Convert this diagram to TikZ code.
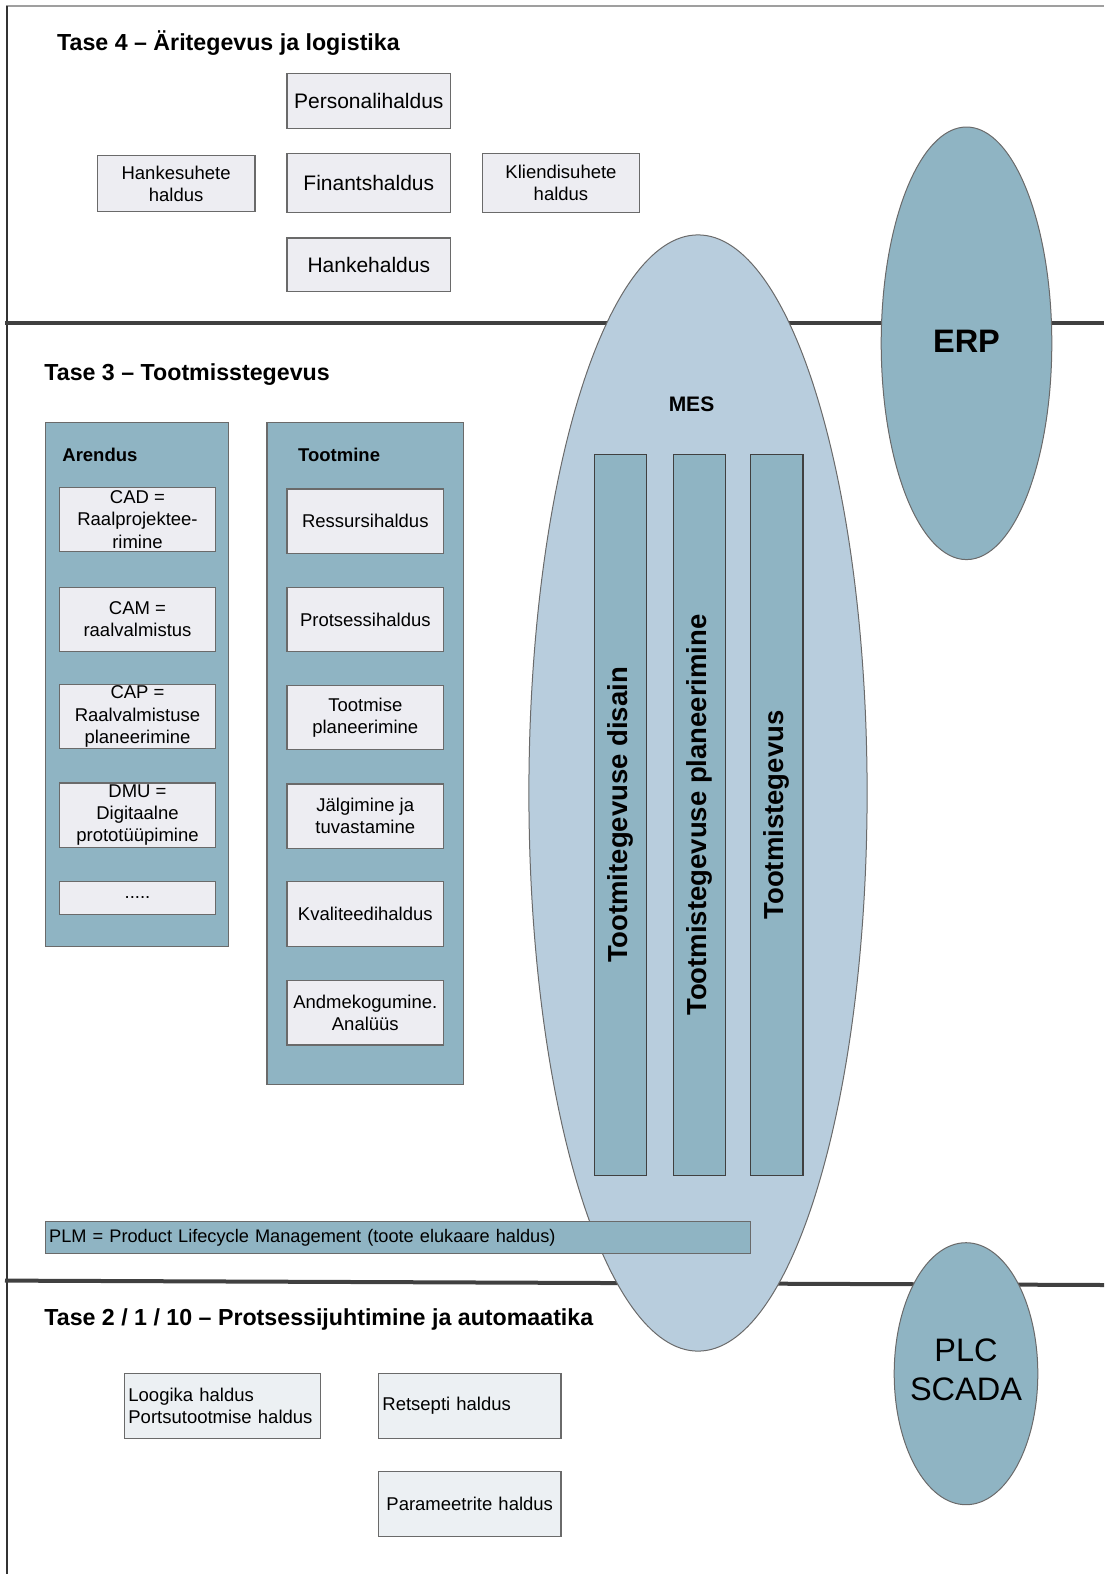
\documentclass[tikz,border=0pt]{standalone}
\usepackage{fontspec}
\setmainfont{Liberation Sans}
\usetikzlibrary{shapes.geometric}
\definecolor{boxfill}{HTML}{EDEDF2}
\definecolor{boxfillb}{HTML}{ECF0F3}
\definecolor{cblue}{HTML}{8FB4C3}
\definecolor{mesfill}{HTML}{B8CDDD}
\definecolor{sepline}{HTML}{404040}
\definecolor{edgecol}{HTML}{6A6A6A}
\begin{document}
\begin{tikzpicture}[x=1pt,y=-1pt,
  box/.style={draw=edgecol, line width=1.2pt, fill=boxfill, inner sep=0pt, align=center,
    font=\fontsize{18.5}{22.2}\selectfont},
  bigbox/.style={box, font=\fontsize{21}{25}\selectfont},
  lowbox/.style={draw=edgecol, line width=1.2pt, fill=boxfillb, inner ysep=0pt, inner xsep=4pt,
    font=\fontsize{18.5}{22.2}\selectfont},
  container/.style={draw=edgecol, line width=1.2pt, fill=cblue, inner sep=0pt},
  bar/.style={draw=sepline, line width=1.2pt, fill=cblue, inner sep=0pt, rotate=90,
    font=\bfseries\fontsize{27.5}{33}\selectfont},
  title/.style={anchor=base west, inner sep=0pt, font=\bfseries\fontsize{23.2}{27}\selectfont},
  head/.style={anchor=west, inner sep=0pt, font=\bfseries\fontsize{18.5}{22}\selectfont},
  oval/.style={ellipse, draw=edgecol, line width=1pt, inner sep=0pt},
  sep/.style={draw=sepline, line width=4pt}
]
\useasboundingbox (0,0) rectangle (1104,1574);
% page frame
\draw[draw=gray!75, line width=2pt] (6,6) -- (1104,6);
\draw[draw=gray!40!black, line width=2pt] (6.5,6) -- (6.5,1574);
% level separators
\draw[sep] (5,323.2) -- (1104,323.2);
\draw[sep] (5,1280.6) -- (1104,1285);

% Level 4
\node[title] (t4) at (57,50) {Tase 4 -- Äritegevus ja logistika};
\node[bigbox, minimum width=163.6, minimum height=55.2] (pers) at (368.8,100.9) {Personalihaldus};
\node[box, minimum width=157.6, minimum height=56.2] (hanks) at (176.1,183.7) {Hankesuhete\\haldus};
\node[bigbox, minimum width=163.6, minimum height=59.2] (fin) at (368.8,183.2) {Finantshaldus};
\node[box, minimum width=156.6, minimum height=59.2] (klient) at (561,183.2) {Kliendisuhete\\haldus};
\node[bigbox, minimum width=163.6, minimum height=53.2] (hanke) at (368.8,264.5) {Hankehaldus};

% ovals
\node[oval, fill=mesfill, minimum width=338.2, minimum height=1116.2] (mes) at (698,793) {};
\node[font=\bfseries\fontsize{21}{25}\selectfont, inner sep=0pt] (meslbl) at (691.5,404.5) {MES};
\node[oval, fill=cblue, minimum width=170.6, minimum height=432.6] (erp) at (966.5,343.3) {};
\node[font=\bfseries\fontsize{32.5}{39}\selectfont, inner sep=0pt] (erplbl) at (966.5,341.5) {ERP};
\node[oval, fill=cblue, minimum width=143.6, minimum height=262] (plc) at (966,1373.7) {};
\node[align=center, inner sep=0pt, font=\fontsize{32.5}{39}\selectfont] (plclbl) at (966,1370) {PLC\\SCADA};

% Level 3
\node[title] (t3) at (44.2,380) {Tase 3 -- Tootmisstegevus};
\node[container, minimum width=183.6, minimum height=524] (arendus) at (137,684.6) {};
\node[head] (arlbl) at (62.2,454.7) {Arendus};
\node[box, minimum width=156.6, minimum height=64.2] (cad) at (137.5,519.5) {CAD =\\Raalprojektee-\\rimine};
\node[box, minimum width=156.6, minimum height=64.2] (cam) at (137.5,619.4) {CAM =\\raalvalmistus};
\node[box, minimum width=156.6, minimum height=64.2] (cap) at (137.5,716.5) {CAP =\\Raalvalmistuse\\planeerimine};
\node[box, minimum width=156.6, minimum height=64.2] (dmu) at (137.5,815) {DMU =\\Digitaalne\\prototüüpimine};
\node[box, minimum width=156.6, minimum height=33.2] (dots) at (137.5,897.9) {.....};

\node[container, minimum width=196.7, minimum height=661.5] (tootmine) at (365.35,753.35) {};
\node[head] (tolbl) at (298,454.7) {Tootmine};
\node[box, minimum width=156.6, minimum height=64.2] (ress) at (365.3,521) {Ressursihaldus};
\node[box, minimum width=156.6, minimum height=64.2] (prots) at (365.3,619.4) {Protsessihaldus};
\node[box, minimum width=156.6, minimum height=64.2] (tplan) at (365.3,717.7) {Tootmise\\planeerimine};
\node[box, minimum width=156.6, minimum height=64.2] (jalg) at (365.3,816.1) {Jälgimine ja\\tuvastamine};
\node[box, minimum width=156.6, minimum height=65.3] (kval) at (365.3,914) {Kvaliteedihaldus};
\node[box, minimum width=156.6, minimum height=64.2] (andme) at (365.3,1012.9) {Andmekogumine.\\Analüüs};

% MES bars
\node[bar, minimum width=720.7, minimum height=52.2] (bar1) at (620.2,815) {Tootmitegevuse disain};
\node[bar, minimum width=720.7, minimum height=52.2] (bar2) at (699.5,815) {Tootmistegevuse planeerimine};
\node[bar, minimum width=720.7, minimum height=52.2] (bar3) at (776.8,815) {Tootmistegevus};

% PLM
\node[draw=edgecol, line width=1.2pt, fill=cblue, inner ysep=0pt, inner xsep=4pt,
  minimum height=32.1, text width=697.5, align=left,
  font=\fontsize{18.2}{22}\selectfont] (plm) at (397.95,1237.6)
  {PLM = Product Lifecycle Management (toote elukaare haldus)};

% Level 2/1/10
\node[title] (t2) at (44.2,1325) {Tase 2 / 1 / 10 -- Protsessijuhtimine ja automaatika};
\node[lowbox, minimum height=65.2, text width=187.7, align=left] (loog) at (222.25,1405.8)
  {Loogika haldus\\Portsutootmise haldus};
\node[lowbox, minimum height=65.2, text width=174.6, align=left] (rets) at (469.7,1405.8)
  {Retsepti haldus};
\node[lowbox, minimum height=65.2, text width=174.6, align=center] (param) at (469.7,1504.2)
  {Parameetrite haldus};
\end{tikzpicture}
\end{document}
